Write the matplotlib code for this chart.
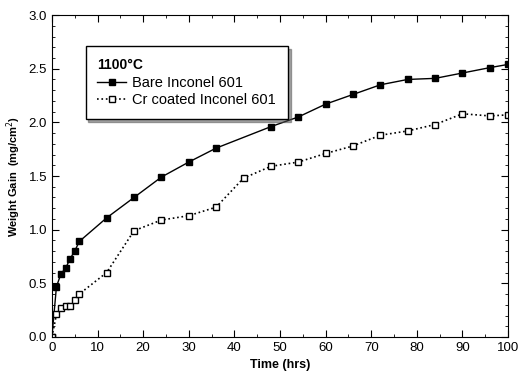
import numpy as np
import matplotlib
matplotlib.use("Agg")
import matplotlib.pyplot as plt
from matplotlib.ticker import MultipleLocator

plt.rcParams['font.family'] = ['Liberation Sans', 'DejaVu Sans']

# bare alloy
t_bare = [0, 1, 2, 3, 4, 5, 6, 12, 18, 24, 30, 36, 48, 54, 60, 66, 72, 78, 84, 90, 96, 100]
w_bare = [0.0, 0.47, 0.59, 0.64, 0.73, 0.80, 0.89, 1.11, 1.30, 1.49, 1.63, 1.76,
          1.96, 2.05, 2.17, 2.26, 2.35, 2.40, 2.41, 2.46, 2.51, 2.54]

# Cr coated
t_cr = [0, 1, 2, 3, 4, 5, 6, 12, 18, 24, 30, 36, 42, 48, 54, 60, 66, 72, 78, 84, 90, 96, 100]
w_cr = [0.0, 0.21, 0.27, 0.29, 0.29, 0.34, 0.40, 0.60, 0.99, 1.09, 1.13, 1.21, 1.48,
        1.59, 1.63, 1.71, 1.78, 1.88, 1.92, 1.98, 2.08, 2.06, 2.07]

fig = plt.figure(figsize=(5.19, 3.86), dpi=100)
ax = fig.add_axes([0.100, 0.127, 0.879, 0.834])

ax.plot(t_bare, w_bare, '-', color='black', lw=1.0, marker='s', ms=4,
        mfc='black', mec='black', label='Bare Inconel 601')
ax.plot(t_cr, w_cr, ':', color='black', lw=1.2, marker='s', ms=4.5,
        mfc='white', mec='black', mew=1.0, label='Cr coated Inconel 601')

ax.set_xlim(0, 100)
ax.set_ylim(0, 3.0)
ax.xaxis.set_major_locator(MultipleLocator(10))
ax.xaxis.set_minor_locator(MultipleLocator(5))
ax.yaxis.set_major_locator(MultipleLocator(0.5))
ax.yaxis.set_minor_locator(MultipleLocator(0.1))
ax.yaxis.set_major_formatter(plt.FormatStrFormatter('%.1f'))
ax.tick_params(which='both', direction='in', top=True, right=True, labelsize=9.5)
ax.tick_params(which='major', length=5)
ax.tick_params(which='minor', length=2.5)

ax.set_xlabel('Time (hrs)', fontsize=9, fontweight='bold')
ax.set_ylabel('Weight Gain  (mg/cm$^2$)', fontsize=8, fontweight='bold')

leg = ax.legend(loc='upper left', bbox_to_anchor=(0.058, 0.925), title='1100°C',
                fontsize=10.5, frameon=True, fancybox=False, shadow=True,
                edgecolor='black', handlelength=2.0, borderpad=0.8,
                labelspacing=0.25, handletextpad=0.4)
leg.get_title().set_fontweight('bold')
leg.get_title().set_fontsize(10)
leg._legend_box.align = 'left'

fig.savefig('out.png', dpi=100)
